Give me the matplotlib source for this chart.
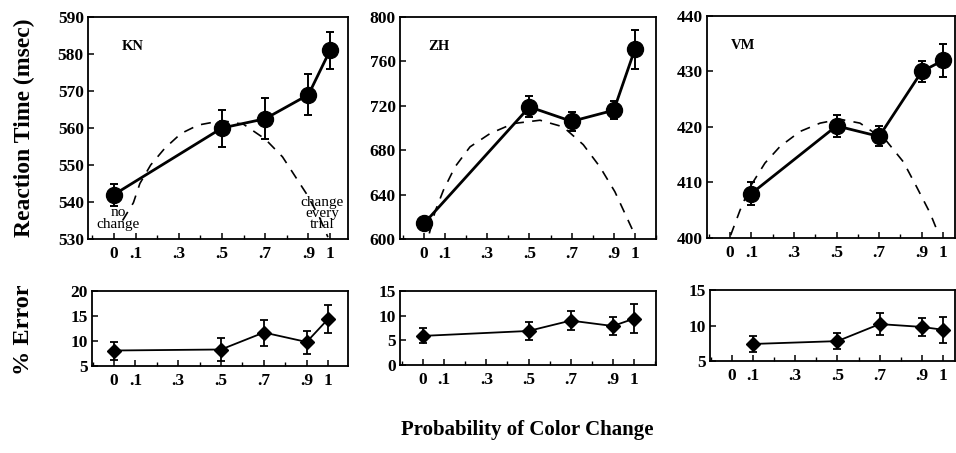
import matplotlib

matplotlib.use("Agg")
import matplotlib.pyplot as plt
from matplotlib.ticker import FixedLocator, MultipleLocator

plt.rcParams["font.family"] = ["Liberation Serif", "DejaVu Serif"]

W, H = 956, 453

# probability of a colour change (x positions shared by all panels)
prob = [0.0, 0.5, 0.7, 0.9, 1.0]
prob_vm = [0.1, 0.5, 0.7, 0.9, 1.0]
tick_pos = [0, 0.1, 0.3, 0.5, 0.7, 0.9, 1.0]
tick_lbl = ["0", ".1", ".3", ".5", ".7", ".9", "1"]

# reaction times (msec) and their error bars
kn_rt = [542, 560, 562.5, 569, 581]
kn_rt_err = [3, 5, 5.5, 5.5, 5]
zh_rt = [614, 719, 706, 716, 771]
zh_rt_err = [3, 9.5, 8.5, 8, 17.5]
vm_rt = [408, 420.2, 418.3, 430, 432]
vm_rt_err = [2, 2, 1.8, 1.9, 3]

# dashed prediction curves
kn_fit_x = [0.04, 0.09, 0.12, 0.17, 0.235, 0.31, 0.39, 0.5, 0.6, 0.7, 0.78, 0.84, 0.89, 0.95, 0.99]
kn_fit_y = [535, 539.8, 545, 550, 554.5, 558.5, 560.8, 562, 561, 557, 552.2, 546.8, 542.3, 536, 530.5]
zh_fit_x = [0.025, 0.052, 0.092, 0.147, 0.218, 0.313, 0.423, 0.55, 0.66, 0.755, 0.834, 0.905, 0.96, 1.0]
zh_fit_y = [605, 624.6, 644, 665, 683, 695, 704, 707, 701, 685, 665, 642.6, 620, 603.6]
vm_fit_x = [0.003, 0.047, 0.094, 0.164, 0.235, 0.329, 0.423, 0.516, 0.61, 0.736, 0.814, 0.876, 0.939, 0.978]
vm_fit_y = [400.5, 405, 409.2, 413.5, 416.5, 419.2, 420.7, 421.4, 420.7, 417.4, 413.7, 409.2, 404.5, 400.8]

# percent errors
kn_pe = [8.1, 8.3, 11.7, 9.8, 14.4]
kn_pe_err = [1.8, 2.3, 2.6, 2.3, 2.8]
zh_pe = [5.9, 6.9, 9.0, 7.9, 9.4]
zh_pe_err = [1.5, 1.8, 2.0, 1.8, 2.9]
vm_pe = [7.4, 7.8, 10.2, 9.8, 9.4]
vm_pe_err = [1.15, 1.15, 1.6, 1.3, 1.8]


def px_axes(fig, left, right, top, bottom):
    return fig.add_axes([left / W, (H - bottom) / H, (right - left) / W, (bottom - top) / H])


def style(ax, xlim, ylim, ystep, fs=12.5):
    ax.set_xlim(*xlim)
    ax.set_ylim(*ylim)
    ax.xaxis.set_major_locator(FixedLocator(tick_pos))
    ax.set_xticklabels(tick_lbl)
    ax.xaxis.set_minor_locator(MultipleLocator(0.1))
    ax.yaxis.set_major_locator(MultipleLocator(ystep))
    ax.tick_params(axis="both", which="major", direction="in", length=4, width=1.1,
                   labelsize=fs, pad=3)
    ax.tick_params(axis="x", which="minor", direction="in", length=3, width=1)
    ax.tick_params(axis="x", which="major", pad=5)
    for lab in ax.get_xticklabels() + ax.get_yticklabels():
        lab.set_fontweight("bold")
    for sp in ax.spines.values():
        sp.set_linewidth(1.3)


fig = plt.figure(figsize=(W / 100, H / 100), dpi=100)

top_specs = [
    ("KN", (88, 348, 17, 239), (-0.12, 1.083), (530, 590), 10, prob, kn_rt, kn_rt_err, kn_fit_x, kn_fit_y, 0.13),
    ("ZH", (400, 656, 17, 239), (-0.114, 1.10), (600, 800), 40, prob, zh_rt, zh_rt_err, zh_fit_x, zh_fit_y, 0.11),
    ("VM", (707, 955, 16, 238), (-0.108, 1.056), (400, 440), 10, prob_vm, vm_rt, vm_rt_err, vm_fit_x, vm_fit_y, 0.095),
]
top_axes = []
for name, box, xl, yl, ys, xs, ys_val, es, fx, fy, lx in top_specs:
    ax = px_axes(fig, *box)
    ax.plot(fx, fy, color="black", linestyle=(0, (6, 5)), linewidth=1.2)
    ax.errorbar(xs, ys_val, yerr=es, color="black", linewidth=2.0, marker="o",
                markersize=11.5, capsize=3, elinewidth=1.4, capthick=1.4)
    style(ax, xl, yl, ys)
    ax.text(lx, 0.865, name, transform=ax.transAxes, fontsize=10.5, fontweight="bold",
            va="center", ha="left")
    top_axes.append(ax)

kn_ax = top_axes[0]
kn_ax.text(0.02, 535.5, "no\nchange", ha="center", va="center", fontsize=11,
           linespacing=0.85)
kn_ax.text(0.963, 536.8, "change\nevery\ntrial", ha="center", va="center", fontsize=11,
           linespacing=0.8)

bot_specs = [
    ((92, 348, 291, 366), (-0.103, 1.093), (5, 20), 5, prob, kn_pe, kn_pe_err),
    ((400, 656, 291, 365), (-0.109, 1.104), (0, 15), 5, prob, zh_pe, zh_pe_err),
    ((710, 955, 290, 361), (-0.104, 1.057), (5, 15), 5, prob_vm, vm_pe, vm_pe_err),
]
for box, xl, yl, ys, xs, vals, es in bot_specs:
    ax = px_axes(fig, *box)
    ax.errorbar(xs, vals, yerr=es, color="black", linewidth=1.3, marker="D",
                markersize=7.5, capsize=3, elinewidth=1.3, capthick=1.3)
    style(ax, xl, yl, ys)

fig.text(24 / W, 1 - 128 / H, "Reaction Time (msec)", rotation=90, ha="center", va="center",
         fontsize=17, fontweight="bold")
fig.text(24 / W, 1 - 330 / H, "% Error", rotation=90, ha="center", va="center",
         fontsize=17.5, fontweight="bold")
fig.text(527 / W, 1 - 430 / H, "Probability of Color Change", ha="center", va="center",
         fontsize=15, fontweight="bold")

fig.savefig("out.png", dpi=100)
